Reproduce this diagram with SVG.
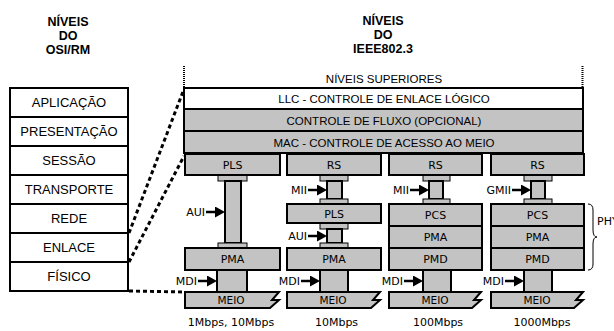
<svg xmlns="http://www.w3.org/2000/svg" width="614" height="331" viewBox="0 0 614 331">
<defs>
<style>
.t{font-family:"Liberation Sans",Arial,sans-serif;fill:#000;text-anchor:middle}
.tb{font-family:"Liberation Sans",Arial,sans-serif;font-weight:bold;font-size:12.5px;fill:#000;text-anchor:middle}
.osi{font-size:13px}
.big{font-size:11.5px}
.d{font-family:"DejaVu Sans",Verdana,sans-serif;font-size:11px;fill:#000;text-anchor:middle}
.lbl{font-family:"DejaVu Sans",Verdana,sans-serif;font-size:11px;fill:#000;text-anchor:end}
.meio{font-family:"DejaVu Sans",Verdana,sans-serif;font-size:10.5px;fill:#000;text-anchor:middle}
.w{fill:#fff;stroke:#000;stroke-width:2}
.g{fill:#c3c3c3;stroke:#000;stroke-width:2}
.cap{fill:#c3c3c3;stroke:#000;stroke-width:1}
.bar{fill:#c3c3c3;stroke:#000;stroke-width:2}
.arr{stroke:#000;stroke-width:2.5;fill:none;marker-end:url(#ah)}
.dash{stroke:#000;stroke-width:3;stroke-dasharray:4 3;fill:none}
.dot{stroke:#000;stroke-width:2;stroke-dasharray:1 1;fill:none}
</style>
<marker id="ah" markerUnits="userSpaceOnUse" markerWidth="10" markerHeight="11" refX="2" refY="5.5" orient="auto">
<path d="M0,0 L10,5.5 L0,11 z" fill="#000"/>
</marker>
</defs>
<rect width="614" height="331" fill="#fff"/>

<g id="titles">
<text class="tb" x="68" y="26">NÍVEIS</text>
<text class="tb" x="68" y="40">DO</text>
<text class="tb" x="68" y="54">OSI/RM</text>
<text class="tb" x="383" y="25">NÍVEIS</text>
<text class="tb" x="383" y="39">DO</text>
<text class="tb" x="383" y="53">IEEE802.3</text>
</g>

<g id="osi">
<rect class="w" x="10" y="88" width="118" height="29"/>
<rect class="w" x="10" y="117" width="118" height="29"/>
<rect class="w" x="10" y="146" width="118" height="29"/>
<rect class="w" x="10" y="175" width="118" height="29"/>
<rect class="w" x="10" y="204" width="118" height="29"/>
<rect class="w" x="10" y="233" width="118" height="29"/>
<rect class="w" x="10" y="262" width="118" height="29"/>
<text class="t osi" x="69" y="107">APLICAÇÃO</text>
<text class="t osi" x="69" y="136">PRESENTAÇÃO</text>
<text class="t osi" x="69" y="165">SESSÃO</text>
<text class="t osi" x="69" y="194">TRANSPORTE</text>
<text class="t osi" x="69" y="223">REDE</text>
<text class="t osi" x="69" y="252">ENLACE</text>
<text class="t osi" x="69" y="281">FÍSICO</text>
</g>

<g id="connectors">
<path class="dash" d="M129,233 L184,89"/>
<path class="dash" d="M129,262 L184,156"/>
<path class="dash" d="M129,291 L185,292"/>
<path class="dot" d="M184,66 V88"/>
<path class="dot" d="M582.5,66 V88"/>
</g>

<g id="upper">
<text class="t big" x="384" y="83">NÍVEIS SUPERIORES</text>
<rect class="w" x="184" y="88" width="399" height="21"/>
<text class="t big" x="384" y="103">LLC - CONTROLE DE ENLACE LÓGICO</text>
<rect class="g" x="184" y="109" width="399" height="22"/>
<text class="t big" x="384" y="125">CONTROLE DE FLUXO (OPCIONAL)</text>
<rect class="g" x="184" y="131" width="399" height="22"/>
<text class="t big" x="384" y="147">MAC - CONTROLE DE ACESSO AO MEIO</text>
</g>

<g id="col1">
<rect class="cap" x="218" y="175" width="29" height="6"/>
<rect class="bar" x="225" y="181" width="16" height="62"/>
<rect class="cap" x="218" y="243" width="29" height="5"/>
<rect class="g" x="185" y="154" width="95" height="21"/>
<text class="d" x="232.5" y="169">PLS</text>
<rect class="g" x="185" y="248" width="95" height="22"/>
<text class="d" x="232.5" y="263">PMA</text>
<rect class="bar" x="217" y="270" width="30" height="22"/>
<path class="g" d="M185,292 H279 L272,300 H279 L270,308 H185 Z"/>
<text class="meio" x="231" y="304">MEIO</text>
<text class="lbl" x="205" y="216">AUI</text>
<path class="arr" d="M206,212 H217"/>
<text class="lbl" x="197" y="285">MDI</text>
<path class="arr" d="M198,281 H209"/>
<text class="d" x="231" y="326">1Mbps, 10Mbps</text>
</g>

<g id="col2">
<rect class="cap" x="320" y="175" width="28" height="6"/>
<rect class="bar" x="327" y="181" width="15" height="18"/>
<rect class="cap" x="320" y="199" width="28" height="5"/>
<rect class="cap" x="320" y="223" width="28" height="6"/>
<rect class="bar" x="327" y="229" width="15" height="14"/>
<rect class="cap" x="320" y="243" width="28" height="5"/>
<rect class="g" x="287" y="154" width="94" height="21"/>
<text class="d" x="334" y="169">RS</text>
<rect class="g" x="287" y="204" width="94" height="19"/>
<text class="d" x="334" y="218">PLS</text>
<rect class="g" x="287" y="248" width="94" height="22"/>
<text class="d" x="334" y="263">PMA</text>
<rect class="bar" x="320" y="270" width="28" height="22"/>
<path class="g" d="M287,292 H380 L373,300 H380 L371,308 H287 Z"/>
<text class="meio" x="333" y="304">MEIO</text>
<text class="lbl" x="307" y="194">MII</text>
<path class="arr" d="M308,190 H319"/>
<text class="lbl" x="307" y="240">AUI</text>
<path class="arr" d="M308,236 H319"/>
<text class="lbl" x="300" y="285">MDI</text>
<path class="arr" d="M301,281 H312"/>
<text class="d" x="336.5" y="326">10Mbps</text>
</g>

<g id="col3">
<rect class="cap" x="423" y="175" width="27" height="6"/>
<rect class="bar" x="429" y="181" width="14" height="18"/>
<rect class="cap" x="423" y="199" width="27" height="5"/>
<rect class="g" x="389" y="154" width="93" height="21"/>
<text class="d" x="435.5" y="169">RS</text>
<rect class="g" x="389" y="204" width="93" height="22"/>
<text class="d" x="435.5" y="219">PCS</text>
<rect class="g" x="389" y="226" width="93" height="22"/>
<text class="d" x="435.5" y="241">PMA</text>
<rect class="g" x="389" y="248" width="93" height="22"/>
<text class="d" x="435.5" y="263">PMD</text>
<rect class="bar" x="423" y="270" width="28" height="22"/>
<path class="g" d="M389,292 H481 L474,300 H481 L472,308 H389 Z"/>
<text class="meio" x="435" y="304">MEIO</text>
<text class="lbl" x="409" y="194">MII</text>
<path class="arr" d="M410,190 H421"/>
<text class="lbl" x="403" y="285">MDI</text>
<path class="arr" d="M404,281 H415"/>
<text class="d" x="438" y="326">100Mbps</text>
</g>

<g id="col4">
<rect class="cap" x="524" y="175" width="28" height="6"/>
<rect class="bar" x="531" y="181" width="14" height="18"/>
<rect class="cap" x="524" y="199" width="28" height="5"/>
<rect class="g" x="491" y="154" width="93" height="21"/>
<text class="d" x="537.5" y="169">RS</text>
<rect class="g" x="491" y="204" width="93" height="22"/>
<text class="d" x="537.5" y="219">PCS</text>
<rect class="g" x="491" y="226" width="93" height="22"/>
<text class="d" x="537.5" y="241">PMA</text>
<rect class="g" x="491" y="248" width="93" height="22"/>
<text class="d" x="537.5" y="263">PMD</text>
<rect class="bar" x="524" y="270" width="28" height="22"/>
<path class="g" d="M491,292 H583 L576,300 H583 L574,308 H491 Z"/>
<text class="meio" x="537" y="304">MEIO</text>
<text class="lbl" x="511" y="194">GMII</text>
<path class="arr" d="M512,190 H523"/>
<text class="lbl" x="504" y="285">MDI</text>
<path class="arr" d="M505,281 H516"/>
<text class="d" x="542" y="326">1000Mbps</text>
</g>

<g id="phy">
<path d="M588,204 Q593,204 593,210 V230 Q593,237 597,237 Q593,237 593,244 V264 Q593,270 588,270" fill="none" stroke="#000" stroke-width="1"/>
<text x="597" y="225" style="font-family:'DejaVu Sans',Verdana,sans-serif;font-size:11px">PHY</text>
</g>
</svg>
